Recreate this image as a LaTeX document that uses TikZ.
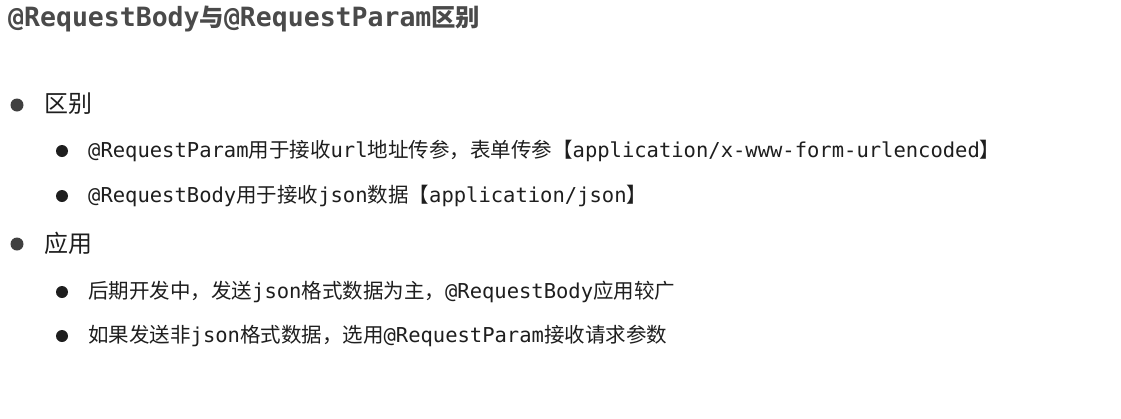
\documentclass[tikz,border=0pt]{standalone}
\usepackage{fontspec}
\setmonofont{DejaVu Sans Mono}
\newfontfamily\cjk[Scale=1.0]{Noto Sans CJK SC}
\newfontfamily\cjkbold[Scale=0.92]{Noto Sans CJK SC Bold}
\usetikzlibrary{positioning}
\definecolor{titlegray}{HTML}{4A4A4A}
\definecolor{bodyink}{HTML}{1E1E1E}
\newcommand{\zh}[1]{{\cjk #1}}
\tikzset{
  titletext/.style={anchor=west,inner sep=0pt,text=titlegray,font=\ttfamily\bfseries\fontsize{26.5}{26.5}\selectfont},
  headtext/.style={anchor=west,inner sep=0pt,text=bodyink,font=\fontsize{24}{24}\selectfont},
  itemtext/.style={anchor=west,inner sep=0pt,text=bodyink,font=\ttfamily\fontsize{20.5}{20.5}\selectfont},
  dotbig/.style={circle,fill=bodyink!85,inner sep=0pt,minimum size=13pt},
  dotsmall/.style={circle,fill=bodyink,inner sep=0pt,minimum size=12pt}
}
\begin{document}
\begin{tikzpicture}[x=1pt,y=-1pt]
\useasboundingbox[fill=white] (0,0) rectangle (1121,418);
% title
\node[titletext] (title) at (8,19) {@RequestBody{\cjkbold 与}@RequestParam{\cjkbold 区别}};
% section 1
\node[dotbig] (d1) at (17,105) {};
\node[headtext] (h1) at (44,104) {\zh{区别}};
\node[dotsmall] (d11) at (62,151) {};
\node[itemtext] (i11) at (88,151) {@RequestParam\zh{用于接收}url\zh{地址传参，表单传参【}application/x-www-form-urlencoded\zh{】}};
\node[dotsmall] (d12) at (62,196) {};
\node[itemtext] (i12) at (88,196) {@RequestBody\zh{用于接收}json\zh{数据【}application/json\zh{】}};
% section 2
\node[dotbig] (d2) at (17,244) {};
\node[headtext] (h2) at (44,243) {\zh{应用}};
\node[dotsmall] (d21) at (62,292) {};
\node[itemtext] (i21) at (88,292) {\zh{后期开发中，发送}json\zh{格式数据为主，}@RequestBody\zh{应用较广}};
\node[dotsmall] (d22) at (62,336) {};
\node[itemtext] (i22) at (88,336) {\zh{如果发送非}json\zh{格式数据，选用}@RequestParam\zh{接收请求参数}};
\end{tikzpicture}
\end{document}
